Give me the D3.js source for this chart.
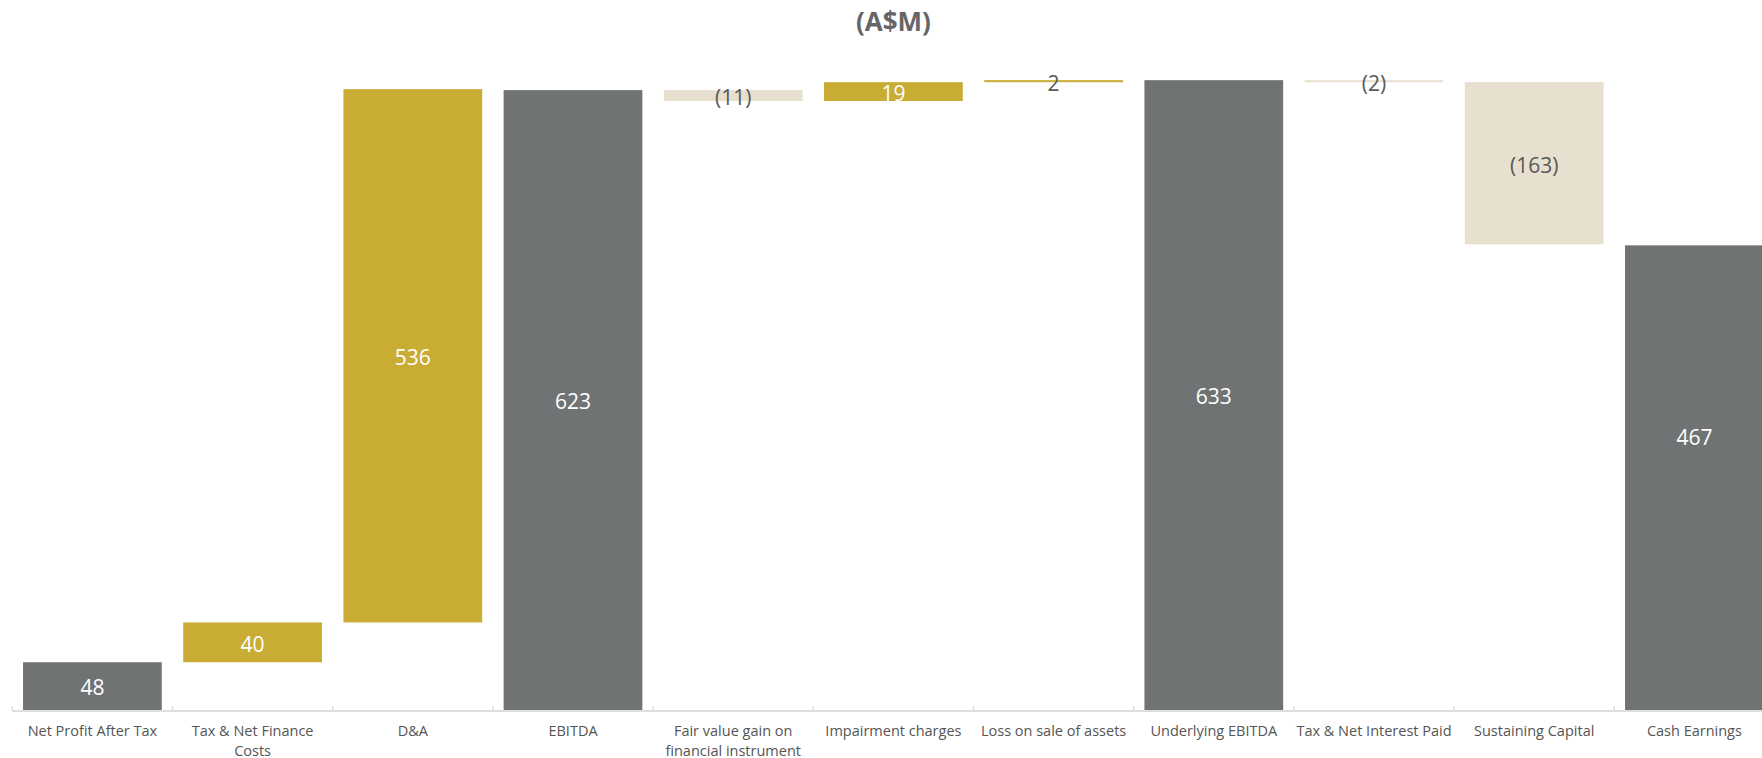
<!DOCTYPE html>
<html>
<head>
<meta charset="utf-8">
<script src="https://cdn.jsdelivr.net/npm/d3@7"></script>
<style>
    body { margin: 0; background: #fff; }
    svg text { font-family: "Open Sans", sans-serif; }
</style>
</head>
<body>
<div id="chart"></div>
<script>

// categories and values (A$M)
const categories = [
    'Net Profit After Tax', 'Tax & Net Finance Costs', 'D&A', 'EBITDA',
    'Fair value gain on financial instrument', 'Impairment charges', 'Loss on sale of assets',
    'Underlying EBITDA', 'Tax & Net Interest Paid', 'Sustaining Capital', 'Cash Earnings'
];
const values = [48, 40, 536, 623, -11, 19, 2, 633, -2, -163, 467];
// 'total' bars start at zero, 'step' bars float on the running total
const kinds = ['total', 'step', 'step', 'total', 'step', 'step', 'step', 'total', 'step', 'step', 'total'];
const labels = ['48', '40', '536', '623', '(11)', '19', '2', '633', '(2)', '(163)', '467'];

const colors = {total: '#707373', up: '#c8ac34', down: '#e8e0ce'};

// build start/end for each bar
let running = 0;
const displayData = categories.map((c, i) => {
    let start, end;
    if (kinds[i] === 'total') {
        start = 0; end = values[i]; running = values[i];
    } else {
        start = running; end = running + values[i]; running = end;
    }
    let type = kinds[i] === 'total' ? 'total' : (values[i] >= 0 ? 'up' : 'down');
    return {category: c, value: values[i], start: start, end: end, type: type, label: labels[i]};
});

const width = 1762, height = 758;
const baseY = 710;

const svg = d3.select('#chart').append('svg')
    .attr('width', width)
    .attr('height', height);

// the band range runs a little past the right edge, as in the original
const x = d3.scaleBand()
    .domain(categories)
    .range([12.3, 1774.5])
    .paddingInner(0.134)
    .paddingOuter(0.067);

const y = d3.scaleLinear()
    .domain([0, 700])
    .range([baseY, 13.5]);

// title
svg.append('text')
    .attr('x', (12.3 + 1774.5) / 2)
    .attr('y', 31)
    .attr('text-anchor', 'middle')
    .attr('font-size', 26)
    .attr('font-weight', 700)
    .attr('fill', '#666')
    .text('(A$M)');

// bars
svg.selectAll('.bar')
    .data(displayData)
    .enter()
    .append('rect')
    .attr('class', 'bar')
    .attr('x', d => x(d.category))
    .attr('width', x.bandwidth())
    .attr('y', d => y(Math.max(d.start, d.end)))
    .attr('height', d => Math.max(1.5, Math.abs(y(d.start) - y(d.end))))
    .attr('fill', d => colors[d.type]);

// value labels (the last one sits higher in the original, not at the bar centre)
svg.selectAll('.value-label')
    .data(displayData)
    .enter()
    .append('text')
    .attr('class', 'value-label')
    .attr('x', d => x(d.category) + x.bandwidth() / 2)
    .attr('y', (d, i) => {
        let mid = (y(d.start) + y(d.end)) / 2;
        return i === displayData.length - 1 ? mid - 40 : mid + 2;
    })
    .attr('dy', '0.35em')
    .attr('text-anchor', 'middle')
    .attr('font-size', 21)
    .attr('fill', d => (d.type === 'down' || Math.abs(y(d.start) - y(d.end)) < 12) ? '#595959' : '#fff')
    .text(d => d.label);

// x axis: light baseline with ticks pointing up at the band edges
const axis = svg.append('g').attr('class', 'x-axis');
axis.append('line')
    .attr('x1', 12.3).attr('x2', width)
    .attr('y1', baseY + 1).attr('y2', baseY + 1)
    .attr('stroke', '#dedede')
    .attr('stroke-width', 2);

const step = x.step();
axis.selectAll('.tick')
    .data(categories)
    .enter()
    .append('line')
    .attr('class', 'tick')
    .attr('x1', d => x(d) - step * 0.067)
    .attr('x2', d => x(d) - step * 0.067)
    .attr('y1', baseY - 4)
    .attr('y2', baseY + 1)
    .attr('stroke', '#dedede')
    .attr('stroke-width', 1.5);

// category labels, wrapped to the band step
const catLabels = axis.selectAll('.cat-label')
    .data(categories)
    .enter()
    .append('text')
    .attr('class', 'cat-label')
    .attr('x', d => x(d) + x.bandwidth() / 2)
    .attr('y', baseY + 26)
    .attr('text-anchor', 'middle')
    .attr('font-size', 14.5)
    .attr('fill', '#555')
    .text(d => d);

catLabels.each(function(d) {
    const text = d3.select(this);
    const words = d.split(' ');
    const cx = text.attr('x');
    text.text(null);
    let line = [];
    let tspan = text.append('tspan').attr('x', cx).attr('dy', 0);
    words.forEach(w => {
        line.push(w);
        tspan.text(line.join(' '));
        if (tspan.node().getComputedTextLength() > step - 1 && line.length > 1) {
            line.pop();
            tspan.text(line.join(' '));
            line = [w];
            tspan = text.append('tspan').attr('x', cx).attr('dy', '1.4em').text(w);
        }
    });
});

</script>
</body>
</html>
